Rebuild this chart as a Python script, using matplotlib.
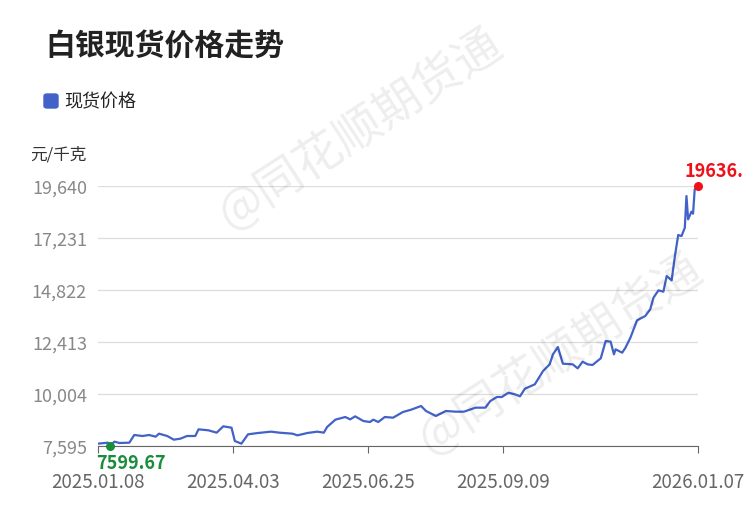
import matplotlib
matplotlib.use("Agg")
import matplotlib.pyplot as plt

plt.rcParams['font.family'] = ['Noto Sans CJK SC', 'DejaVu Sans']

days = [0,6,7,10,13,19,22,27,31,35,37,42,46,50,54,59,61,67,72,76,81,83,87,91,97,105,110,118,121,127,133,137,139,144,150,153,156,161,165,167,170,174,179,185,190,196,199,205,211,217,222,229,235,238,242,245,249,253,256,259,265,270,274,276,279,282,288,291,294,297,300,305,308,311,313,314,318,320,323,327,330,332,335,337,340,343,345,348,350,352,354,356,357,358,360,361,362,364]
prices = [7703,7749,7600,7796,7734,7749,8105,8058,8105,8027,8166,8058,7888,7935,8058,8058,8367,8321,8213,8506,8444,7827,7703,8135,8197,8259,8213,8166,8089,8197,8259,8213,8475,8815,8938,8830,8969,8753,8707,8815,8707,8938,8907,9170,9278,9448,9216,8985,9216,9185,9185,9371,9371,9679,9865,9865,10065,9988,9896,10251,10451,11069,11378,11841,12181,11409,11378,11193,11501,11378,11347,11656,12459,12428,11841,12073,11918,12150,12613,13416,13539,13617,13925,14466,14806,14744,15469,15268,16396,17369,17322,17708,19175,18094,18449,18357,19484,19636]
yticks = [7595,10004,12413,14822,17231,19640]
xtick_pos = [0,82,164,246,364]
xtick_labels = ['2025.01.08','2025.04.03','2025.06.25','2025.09.09','2026.01.07']
min_day, min_val = 7, 7599.67
max_day, max_val = 364, 19636

fig = plt.figure(figsize=(7.5,5.1), dpi=100)
ax = fig.add_axes([98/750, 1-447/510, 600/750, 260/510])
ax.plot(days, prices, color='#4262c8', lw=1.6, label='现货价格')
ax.set_xlim(0,364); ax.set_ylim(7595,19640)
ax.set_yticks(yticks); ax.set_yticklabels([f'{v:,}' for v in yticks])
ax.set_xticks(xtick_pos); ax.set_xticklabels(xtick_labels)
ax.grid(axis='y', color='#dddddd', lw=0.9)
for s in ['top','right','left']: ax.spines[s].set_visible(False)
ax.spines['bottom'].set_color('#666666')
ax.tick_params(axis='y', length=0, labelsize=13, labelcolor='#888888', pad=8)
ax.tick_params(axis='x', length=5, color='#666666', labelsize=13.5, labelcolor='#666666', pad=13)
ax.scatter([min_day],[min_val], color='#1a8c3c', s=30, zorder=5, clip_on=False)
ax.scatter([max_day],[max_val], color='#f0101a', s=30, zorder=5, clip_on=False)
ax.annotate('7599.67', (min_day,min_val), xytext=(-10,-5), textcoords='offset points', color='#1a8c3c', fontsize=13, fontweight='bold', va='top', annotation_clip=False, zorder=6)
ax.annotate(f'{max_val}.', (max_day,max_val), xytext=(-10,7), textcoords='offset points', color='#f0101a', fontsize=13, fontweight='bold', annotation_clip=False)
fig.text(45/750, 1-47/510, '白银现货价格走势', fontsize=21.5, fontweight='bold', color='#222222', va='center')
fig.text(30/750, 1-155/510, '元/千克', fontsize=12, color='#333333', va='center')
fig.patches.append(matplotlib.patches.FancyBboxPatch((44/750,1-109/510),14/750,14/510, boxstyle='round,pad=0,rounding_size=0.004', color='#4262c8', transform=fig.transFigure))
fig.text(64/750, 1-102/510, '现货价格', fontsize=13, color='#222222', va='center')
for (x,y) in [(360,130),(560,355)]:
    fig.text(x/750, 1-y/510, '@同花顺期货通', fontsize=34, color='#000000', alpha=0.07, rotation=33, ha='center', va='center')
fig.savefig('out.png')
